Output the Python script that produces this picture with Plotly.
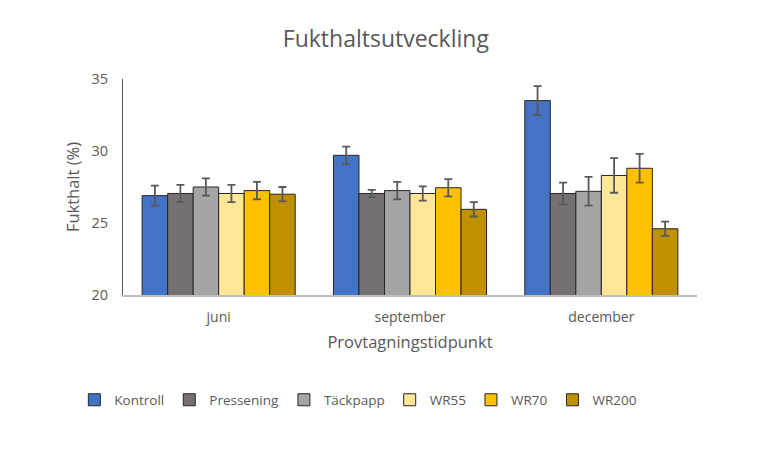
import plotly.graph_objects as go

categories = ["juni", "september", "december"]
series_names = ["Kontroll", "Pressening", "Täckpapp", "WR55", "WR70", "WR200"]
kontroll = [26.9, 29.7, 33.5]
pressening = [27.05, 27.05, 27.05]
tackpapp = [27.5, 27.25, 27.2]
wr55 = [27.05, 27.05, 28.3]
wr70 = [27.25, 27.45, 28.8]
wr200 = [27.0, 25.95, 24.6]
kontroll_err = [0.7, 0.6, 1.0]
pressening_err = [0.6, 0.25, 0.75]
tackpapp_err = [0.6, 0.6, 1.0]
wr55_err = [0.6, 0.5, 1.2]
wr70_err = [0.6, 0.6, 1.0]
wr200_err = [0.5, 0.5, 0.5]
colors = ["#4472C4", "#767171", "#A5A5A5", "#FFE699", "#FFC000", "#BF9000"]

values = [kontroll, pressening, tackpapp, wr55, wr70, wr200]
errors = [kontroll_err, pressening_err, tackpapp_err, wr55_err, wr70_err, wr200_err]

font_family = "Open Sans, Liberation Sans, sans-serif"
text_color = "#595959"

fig = go.Figure()
for name, v, e, c in zip(series_names, values, errors, colors):
    fig.add_trace(go.Bar(
        name=name, x=categories, y=v,
        marker=dict(color=c, line=dict(color="#262626", width=1)),
        error_y=dict(type="data", array=e, visible=True, color="#595959",
                     thickness=1.8, width=4),
    ))

fig.update_layout(
    width=768, height=456,
    barmode="group", bargap=0.2, bargroupgap=0,
    plot_bgcolor="white", paper_bgcolor="white",
    margin=dict(l=115, r=79, t=71, b=169, autoexpand=False),
    font=dict(family=font_family, color=text_color, size=14),
    title=dict(text="Fukthaltsutveckling", x=0.492, xanchor="center",
               y=0.933, yanchor="middle",
               font=dict(size=23, color=text_color, family=font_family)),
    xaxis=dict(title=dict(text="Provtagningstidpunkt", font=dict(size=16.5, color=text_color), standoff=12),
               showline=True, linecolor="#bfbfbf", linewidth=1.5,
               ticks="", tickfont=dict(size=14, color=text_color),
               ticklabelstandoff=8, automargin=False),
    yaxis=dict(title=dict(text="Fukthalt (%)", font=dict(size=16.5, color=text_color), standoff=7),
               range=[20, 35], tickvals=[20, 25, 30, 35],
               showline=True, linecolor="#595959", linewidth=1,
               showgrid=False, zeroline=False, ticks="",
               tickfont=dict(size=14.5, color=text_color),
               ticklabelstandoff=11, automargin=False),
    legend=dict(orientation="h", x=0.41, xanchor="center", y=-0.486, yanchor="middle",
                font=dict(size=13.5, color=text_color), itemwidth=30, traceorder="normal"),
    showlegend=True,
)

fig.write_html("out.html")
